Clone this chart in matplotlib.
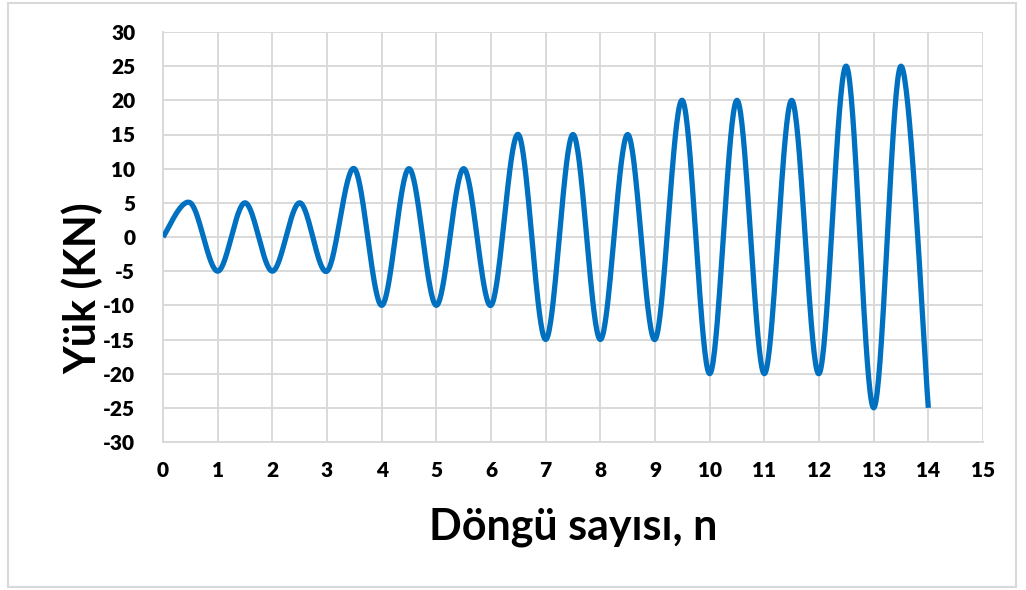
import numpy as np
import matplotlib.pyplot as plt
from matplotlib.patches import Rectangle

# Tepe ve cukur noktalari (dongu sayisi, yuk)
n_pts = [0, 0.5, 1, 1.5, 2, 2.5, 3, 3.5, 4, 4.5, 5, 5.5, 6, 6.5, 7,
         7.5, 8, 8.5, 9, 9.5, 10, 10.5, 11, 11.5, 12, 12.5, 13, 13.5, 14]
yuk = [0, 5, -5, 5, -5, 5, -5, 10, -10, 10, -10, 10, -10, 15, -15,
       15, -15, 15, -15, 20, -20, 20, -20, 20, -20, 25, -25, 25, -25]

x_ticks = list(range(0, 16))
y_ticks = list(range(-30, 31, 5))


def smooth(xs, ys, steps=40):
    # Excel tarzi yumusatilmis cizgi (Catmull-Rom / Bezier)
    p = np.column_stack([xs, ys]).astype(float)
    out = []
    t = np.linspace(0, 1, steps)[:, None]
    for i in range(len(p) - 1):
        p0 = p[i]
        p3 = p[i + 1]
        prev = p[i - 1] if i > 0 else p[i]
        nxt = p[i + 2] if i + 2 < len(p) else p[i + 1]
        c1 = p0 + (p3 - prev) / 6
        c2 = p3 - (nxt - p0) / 6
        seg = ((1 - t) ** 3 * p0 + 3 * (1 - t) ** 2 * t * c1
               + 3 * (1 - t) * t ** 2 * c2 + t ** 3 * p3)
        out.append(seg if i == 0 else seg[1:])
    out = np.vstack(out)
    return out[:, 0], out[:, 1]


plt.rcParams['font.family'] = ['Lato', 'DejaVu Sans']
plt.rcParams['font.weight'] = 'bold'
plt.rcParams['axes.unicode_minus'] = False

fig = plt.figure(figsize=(10.26, 5.9), dpi=100)
ax = fig.add_axes([163 / 1026, 1 - 442 / 590, 820 / 1026, 410 / 590])

xs, ys = smooth(n_pts, yuk)
ax.plot(xs, ys, color='#0070C0', lw=3.8, solid_capstyle='butt', zorder=3)

ax.set_xlim(0, 15)
ax.set_ylim(-30, 30)
ax.set_xticks(x_ticks)
ax.set_yticks(y_ticks)
ax.grid(True, color='#D9D9D9', lw=1.4)
ax.set_axisbelow(True)
ax.tick_params(length=0, labelsize=15)
ax.tick_params(axis='y', pad=20)
ax.tick_params(axis='x', pad=14)
for lab in ax.get_xticklabels() + ax.get_yticklabels():
    lab.set_fontweight('heavy')
for s in ['top', 'right']:
    ax.spines[s].set_visible(False)
for s in ['left', 'bottom']:
    ax.spines[s].set_color('#D9D9D9')
    ax.spines[s].set_linewidth(1.4)

fig.text(573 / 1026, 1 - 527 / 590, 'Döngü sayısı, n', ha='center', va='center',
         fontsize=31, fontweight='bold')
fig.text(83 / 1026, 1 - 288 / 590, 'Yük (KN)', ha='center', va='center',
         rotation=90, fontsize=31, fontweight='bold')

fig.patches.append(Rectangle((8 / 1026, 1 - 587 / 590), 1008 / 1026, 584 / 590,
                             transform=fig.transFigure, fill=False,
                             edgecolor='#D9D9D9', lw=1.5))

fig.savefig('out.png', dpi=100)
